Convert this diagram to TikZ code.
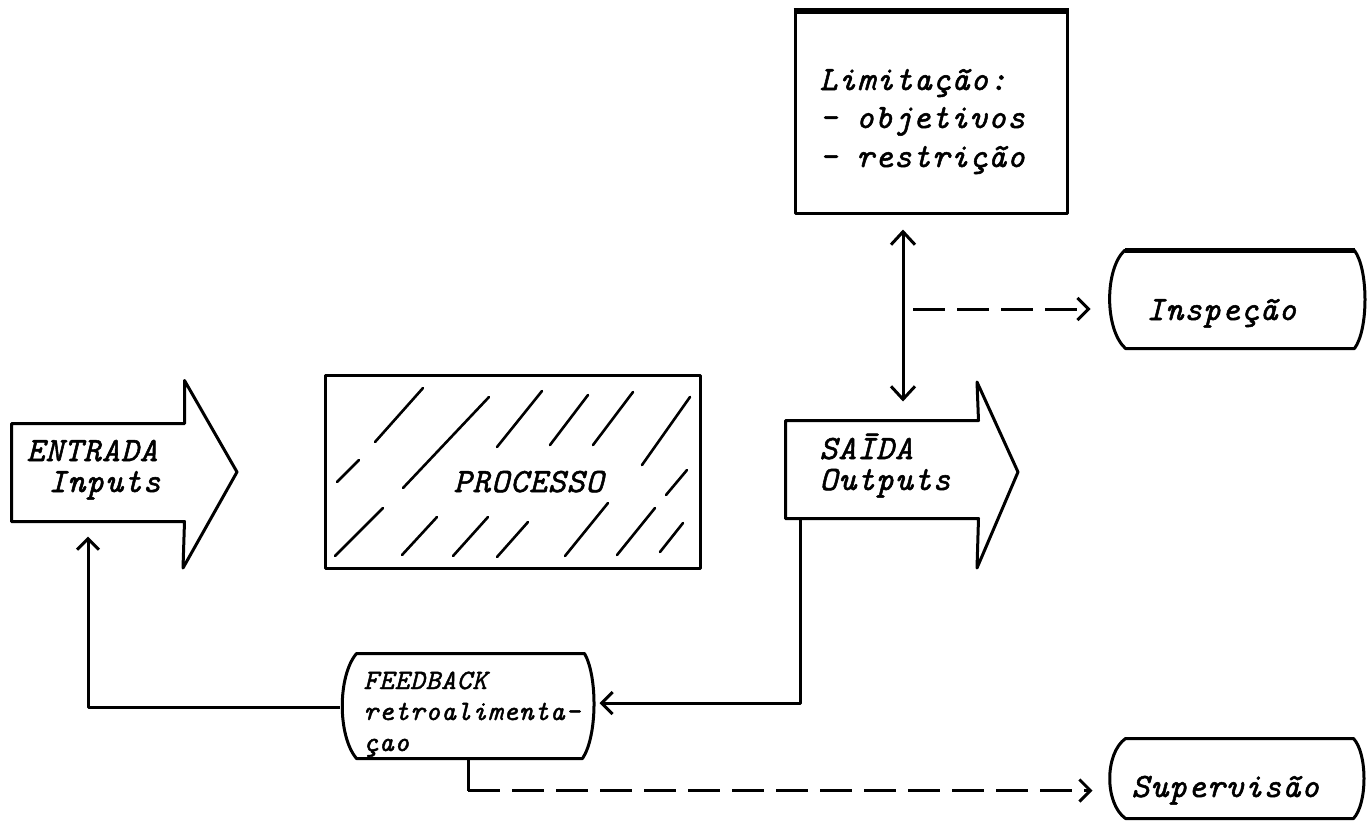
\documentclass[tikz,border=0pt]{standalone}
\usepackage{fontspec}
\newfontfamily\tw{lmmono10-italic.otf}[LetterSpace=3,FakeBold=1.6]
\usetikzlibrary{arrows.meta,calc}

\begin{document}
\begin{tikzpicture}[x=1pt,y=-1pt,line width=3pt,line join=round,
  tx/.style={inner sep=0pt,anchor=base west,font=\tw\fontsize{34}{40}\selectfont},
  txs/.style={tx,font=\tw\fontsize{28}{32}\selectfont},
  slot/.style={draw=none,inner sep=0pt,rectangle},
  arr/.style={-{Straight Barb[length=11pt,width=22pt]}},
  biarr/.style={{Straight Barb[length=13pt,width=24pt]}-{Straight Barb[length=13pt,width=24pt]}},
  dsh/.style={dash pattern=on 32pt off 12pt},
  hatch/.style={line width=2.6pt,line cap=round}]

\useasboundingbox (0,0) rectangle (1369,823);

% ---- ENTRADA block arrow
\node[slot,minimum width=170pt,minimum height=95pt] (ent) at (98,472.5) {};
\draw (ent.north west) -- (ent.north east) -- ++(0,-43) -- (237,472)
      -- (183,568) -- (ent.south east) -- (ent.south west) -- cycle;
\node[tx] (entA) at (25,461) {ENTRADA};
\node[tx] (entB) at (47,492) {Inputs};

% ---- PROCESSO box with hand hatching
\node[slot,draw,minimum width=375pt,minimum height=193pt] (proc) at (512.5,471.5) {};
\foreach \a/\b/\c/\d in {
  375/442/423/388, 337/482/359/460, 403/488/489/397, 497/447/542/391,
  550/445/588/395, 593/445/633/392, 642/465/690/397, 666/495/687/470,
  335/556/383/508, 402/555/437/517, 453/556/488/517, 497/557/528/522,
  565/556/608/503, 617/555/655/508, 660/552/683/523}
  \draw[hatch] (\a,\b) -- (\c,\d);
\node[tx] (procT) at (452,492) {PROCESSO};

% ---- SAIDA block arrow
\node[slot,minimum width=190pt,minimum height=95pt] (sai) at (882,469.5) {};
\draw (sai.north west) -- (sai.north east) -- (977,382) -- (1018,472)
      -- (977,568) -- (sai.south east) -- (sai.south west) -- cycle;
\node[tx] (saiA) at (818,459) {SAĪDA};
\node[tx] (saiB) at (818,490) {Outputs};

% ---- Limitacao box
\node[slot,draw,minimum width=272pt,minimum height=201pt] (lim) at (931,112.5) {};
\draw[line width=6pt] (lim.north west) -- (lim.north east);
\node[tx] (limA) at (818,90) {Limitação:};
\node[tx] (limB) at (818,128) {- objetivos};
\node[tx] (limC) at (818,167) {- restrição};

% ---- Inspecao terminal
\node[slot,minimum width=255pt,minimum height=95pt] (insp) at (1237.5,299.5) {};
\draw ($(insp.north west)+(16,0)$) -- ($(insp.north east)+(-12,0)$)
  .. controls ($(insp.east)+(2,-30)$) and ($(insp.east)+(2,30)$) .. ($(insp.south east)+(-12,0)$)
  -- ($(insp.south west)+(17,0)$)
  .. controls ($(insp.west)+(-4,30)$) and ($(insp.west)+(-4,-30)$) .. cycle;
\draw[line width=5pt] ($(insp.north west)+(16,0)$) -- ($(insp.north east)+(-12,0)$);
\node[tx] (inspT) at (1145,320) {Inspeção};

% ---- Supervisao terminal
\node[slot,minimum width=254pt,minimum height=77pt] (sup) at (1237,778.5) {};
\draw ($(sup.north west)+(17,0)$) -- ($(sup.north east)+(-12,0)$)
  .. controls ($(sup.east)+(2,-25)$) and ($(sup.east)+(2,25)$) .. ($(sup.south east)+(-12,0)$)
  -- ($(sup.south west)+(17,0)$)
  .. controls ($(sup.west)+(-4,25)$) and ($(sup.west)+(-4,-25)$) .. cycle;
\node[tx] (supT) at (1130,797) {Supervisão};

% ---- FEEDBACK terminal
\node[slot,minimum width=250pt,minimum height=102pt] (fb) at (468,706) {};
\draw ($(fb.north west)+(15,0)$) -- ($(fb.north east)+(-10,0)$)
  .. controls ($(fb.east)+(3,-30)$) and ($(fb.east)+(3,30)$) .. ($(fb.south east)+(-12,0)$)
  -- ($(fb.south west)+(15,0)$)
  .. controls ($(fb.west)+(-4,30)$) and ($(fb.west)+(-4,-30)$) .. cycle;
\node[txs] (fbA) at (362,689) {FEEDBACK};
\node[txs] (fbB) at (362,720) {retroalimenta-};
\node[txs] (fbC) at (362,751) {çao};

% ---- connectors
\coordinate (vx) at (903,0);
\draw[biarr,shorten <=15pt,shorten >=19pt] (lim.south -| vx) -- (sai.north -| vx);
\coordinate (ix) at (913,309);
\draw[dsh,arr] (ix) -- ($(insp.west |- ix)+(-18,0)$);

\coordinate (fx) at (800,0);
\draw[arr] (sai.south -| fx) |- ($(fb.east)+(5,-3)$);

\coordinate (inx) at (88,0);
\draw[arr] ($(fb.west)+(-2,1)$) -| ($(ent.south -| inx)+(0,15)$);

\draw (fb.south) -- ++(0,32) coordinate (fk);
\draw[dsh,arr] (fk) -- ($(sup.west |- fk)+(-16,0)$);
\end{tikzpicture}
\end{document}
